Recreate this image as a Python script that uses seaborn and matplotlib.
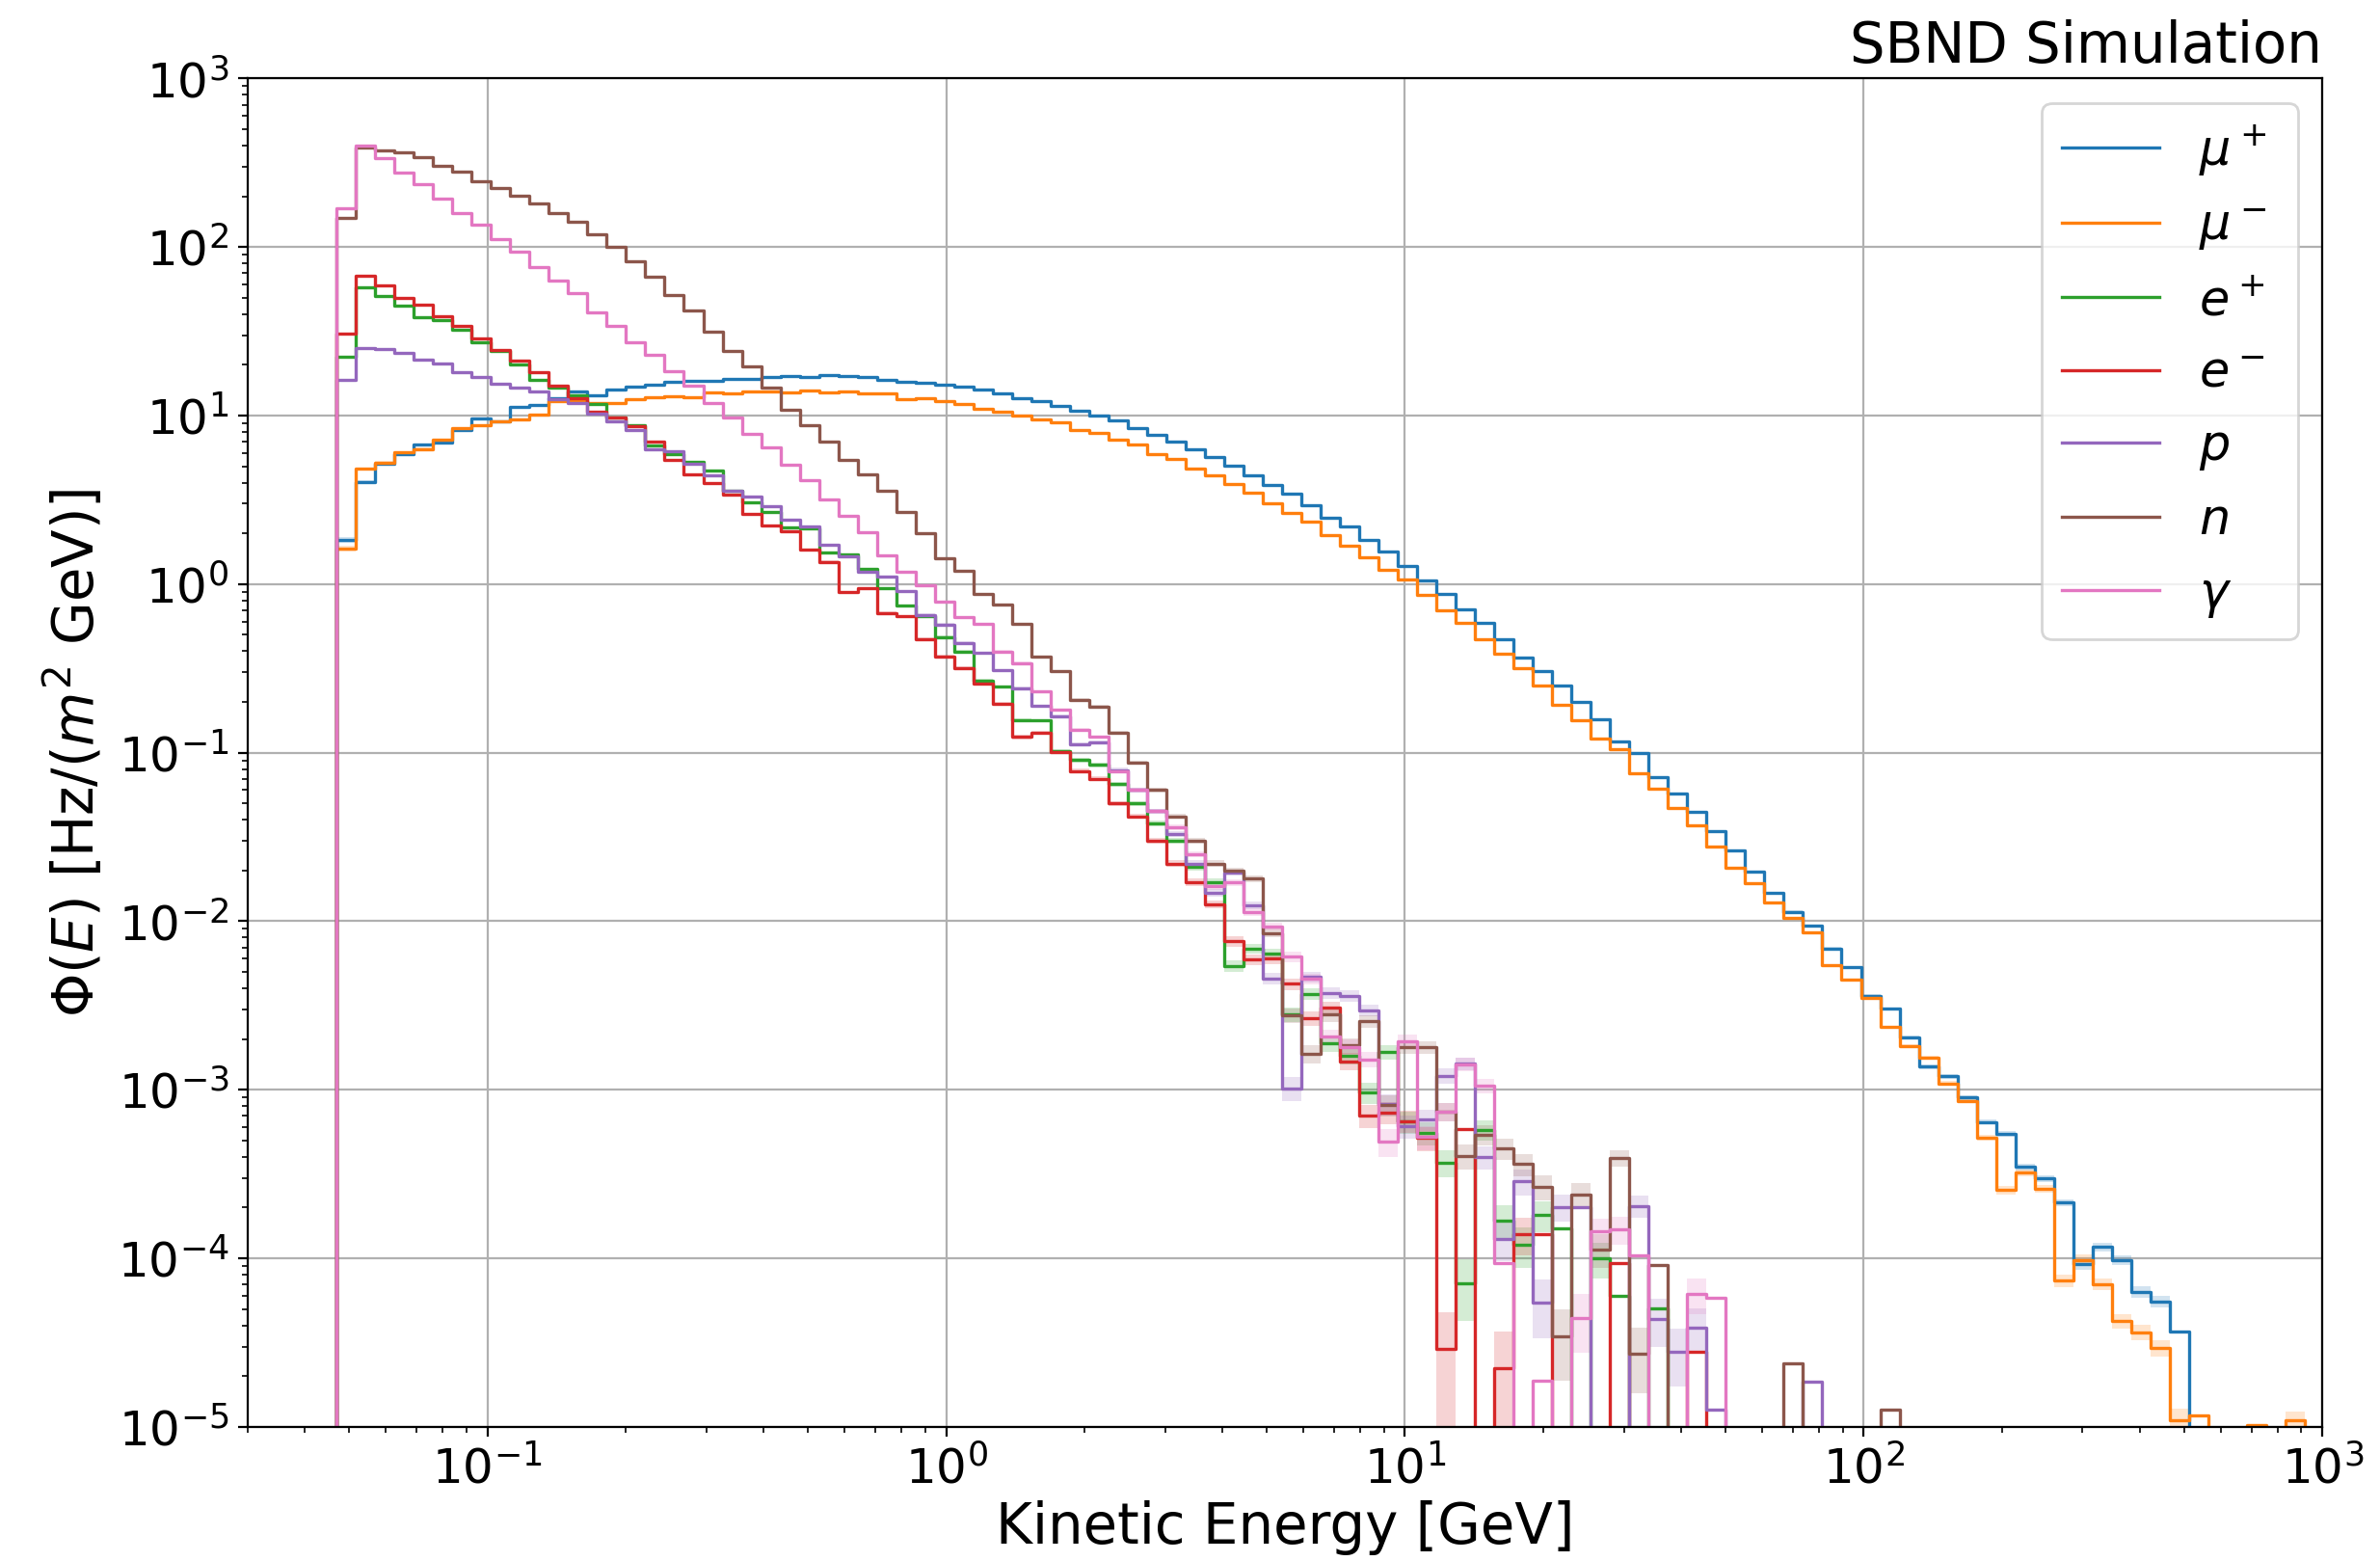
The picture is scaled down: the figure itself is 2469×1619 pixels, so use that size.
import numpy as np
import matplotlib
matplotlib.use("Agg")
import matplotlib.pyplot as plt
import seaborn as sns

# ---------------- data ----------------
# log-spaced kinetic-energy bin edges (GeV)
log_first_edge = -1.3287
log_bin_width = 0.04206
n_bins = 102

labels = [r"$\mu^+$ ", r"$\mu^-$ ", r"$e^+$ ", r"$e^-$ ", r"$p$ ", r"$n$ ", r"$\gamma$ "]
colors = ["#1f77b4", "#ff7f0e", "#2ca02c", "#d62728", "#9467bd", "#8c564b", "#e377c2"]

mu_plus = [1.83, 4.04, 5.2, 5.9, 6.7, 6.95, 8.26, 9.66, 9.27, 11.2, 11.6, 12.7, 13.9, 13.2, 14.2, 14.8, 15.2, 15.9, 16.1, 16.1,
           16.6, 16.6, 17.0, 17.1, 17.0, 17.3, 17.2, 17.0, 16.4, 15.9, 15.6, 15.3, 14.9, 14.3, 13.5, 12.7, 12.2, 11.4, 10.7, 10.0,
           9.4, 8.4, 7.7, 7.0, 6.3, 5.65, 5.02, 4.44, 3.89, 3.43, 2.94, 2.49, 2.19, 1.83, 1.57, 1.28, 1.05, 0.88, 0.713, 0.593,
           0.470, 0.369, 0.307, 0.252, 0.199, 0.157, 0.117, 0.100, 0.0719, 0.0570, 0.0448, 0.0344, 0.0264, 0.0196, 0.0147, 0.0114, 0.0094, 0.0069, 0.00534, 0.00361,
           0.00303, 0.00204, 0.00137, 0.00120, 0.00090, 0.000645, 0.000546, 0.000349, 0.000297, 0.000214, 9.25e-5, 1.17e-4, 9.78e-5, 6.31e-5, 5.53e-5, 3.68e-5, 0, 0, 0, 0,
           0, 0]
mu_minus = [1.63, 4.82, 5.27, 6.04, 6.35, 7.2, 8.47, 8.8, 9.27, 9.5, 10.2, 12.2, 12.2, 11.8, 11.9, 12.5, 12.9, 13.1, 12.9, 13.7,
            13.6, 14.0, 14.0, 13.8, 14.1, 13.8, 13.9, 13.5, 13.5, 12.6, 12.7, 12.2, 11.7, 11.0, 10.5, 10.0, 9.5, 9.1, 8.2, 7.9,
            7.2, 6.7, 5.9, 5.5, 4.87, 4.40, 3.94, 3.50, 3.03, 2.65, 2.36, 1.95, 1.69, 1.45, 1.21, 1.06, 0.861, 0.698, 0.593, 0.470,
            0.389, 0.319, 0.252, 0.193, 0.155, 0.122, 0.105, 0.0752, 0.0609, 0.0468, 0.0371, 0.0276, 0.0209, 0.0168, 0.0130, 0.0105, 0.0086, 0.0055, 0.0045, 0.00352,
            0.00235, 0.00182, 0.00156, 0.00109, 0.00086, 0.000522, 0.000254, 0.000323, 0.000259, 7.36e-5, 9.78e-5, 7.05e-5, 4.26e-5, 3.65e-5, 2.93e-5, 1.09e-5, 1.17e-5, 0, 0, 1.02e-5,
            0, 1.1e-5]
e_plus = [22.4, 57.4, 51.2, 45.1, 38.4, 36.9, 32.2, 27.2, 24.1, 20.1, 16.3, 14.6, 13.2, 11.7, 9.8, 8.8, 6.68, 5.89, 5.32, 4.70,
          3.56, 3.06, 2.69, 2.16, 2.13, 1.55, 1.50, 1.24, 0.947, 0.743, 0.643, 0.485, 0.399, 0.269, 0.246, 0.155, 0.155, 0.102, 0.0904, 0.0847,
          0.065, 0.05, 0.038, 0.03, 0.021, 0.0171, 0.00543, 0.0069, 0.0064, 0.00281, 0.00370, 0.00188, 0.00159, 0.000961, 0.00167, 0.000647, 0.000557, 0.000371, 7.07e-5, 0.000580,
          0.000168, 0.00012, 0.00018, 0.00015, 0, 0.0001, 6e-5, 0, 5.05e-5, 0, 0, 0, 0, 0, 0, 0, 0, 0, 0, 0,
          0, 0, 0, 0, 0, 0, 0, 0, 0, 0, 0, 0, 0, 0, 0, 0, 0, 0, 0, 0,
          0, 0]
e_minus = [30.6, 68, 58.9, 50.2, 45.8, 39.0, 33.9, 28.8, 24.4, 21.2, 18.2, 15.0, 12.7, 10.5, 9.75, 8.68, 7.03, 5.46, 4.46, 3.98,
           3.39, 2.61, 2.24, 2.07, 1.60, 1.36, 0.893, 0.946, 0.675, 0.643, 0.473, 0.373, 0.319, 0.256, 0.195, 0.124, 0.132, 0.101, 0.078, 0.07,
           0.05, 0.042, 0.03, 0.022, 0.017, 0.0126, 0.00762, 0.00594, 0.0060, 0.00425, 0.00265, 0.00308, 0.00148, 0.000704, 0.000732, 0.000653, 0.000518, 2.90e-5, 0.000586, 0,
           2.23e-5, 0.000139, 0.000139, 0, 0, 0, 9.4e-5, 0, 0, 0, 2.79e-5, 0, 0, 0, 0, 0, 0, 0, 0, 0,
           0, 0, 0, 0, 0, 0, 0, 0, 0, 0, 0, 0, 0, 0, 0, 0, 0, 0, 0, 0,
           0, 0]
proton = [16.3, 25.1, 24.8, 23.5, 21.5, 20.5, 18.2, 17.0, 15.5, 14.6, 14.0, 12.5, 11.8, 10.3, 9.27, 8.17, 6.35, 6.13, 5.20, 4.40,
          3.59, 3.30, 2.91, 2.40, 2.20, 1.71, 1.46, 1.19, 1.11, 0.906, 0.658, 0.577, 0.449, 0.390, 0.309, 0.241, 0.189, 0.164, 0.112, 0.115,
          0.079, 0.06, 0.045, 0.033, 0.022, 0.0148, 0.0195, 0.0125, 0.00457, 0.00102, 0.00469, 0.00375, 0.00362, 0.00296, 0.00082, 0.000607, 0.00067, 0.00121, 0.00143, 0.0004,
          0.000131, 0.000286, 5.43e-5, 0.000202, 0.000202, 0, 0, 0.000205, 4.35e-5, 2.79e-5, 3.88e-5, 1.26e-5, 0, 0, 0, 0, 1.86e-5, 0, 0, 0,
          0, 0, 0, 0, 0, 0, 0, 0, 0, 0, 0, 0, 0, 0, 0, 0, 0, 0, 0, 0,
          0, 0]
neutron = [148, 390, 376, 367, 340, 303, 282, 245, 224, 202, 181, 159, 142, 119, 100, 82, 67, 52, 42, 31.6,
           24.2, 19.6, 14.6, 10.9, 8.8, 6.98, 5.49, 4.46, 3.56, 2.68, 2.0, 1.42, 1.20, 0.879, 0.754, 0.584, 0.371, 0.306, 0.206, 0.188,
           0.132, 0.0873, 0.06, 0.042, 0.03, 0.022, 0.0199, 0.0179, 0.0085, 0.00276, 0.00164, 0.00279, 0.00183, 0.00256, 0.00081, 0.00179, 0.00179, 0.000743, 0.000404, 0.000543,
           0.000451, 0.000362, 0.000265, 3.43e-5, 0.00024, 0.000113, 0.000395, 2.72e-5, 9.14e-5, 0, 0, 0, 0, 0, 0, 2.37e-5, 0, 0, 0, 0,
           1.26e-5, 0, 0, 0, 0, 0, 0, 0, 0, 0, 0, 0, 0, 0, 0, 0, 0, 0, 0, 0,
           0, 0]
gamma = [171, 402, 335, 278, 235, 195, 159, 135, 112, 94, 76, 63, 53.6, 41, 34, 27.4, 23.0, 18.3, 15.0, 11.9,
         9.76, 7.78, 6.46, 5.1, 4.16, 3.19, 2.56, 2.02, 1.49, 1.19, 0.988, 0.787, 0.638, 0.579, 0.399, 0.340, 0.230, 0.179, 0.137, 0.124,
         0.0774, 0.06, 0.045, 0.036, 0.025, 0.0162, 0.0170, 0.0114, 0.0093, 0.00616, 0.00457, 0.00207, 0.00179, 0.00152, 0.000492, 0.00195, 0.000525, 0.000743, 0.00142, 0.00106,
         9.37e-5, 0, 1.89e-5, 0, 4.45e-5, 0.000144, 0.000148, 0.000104, 0, 0, 6.15e-5, 5.86e-5, 0, 0, 0, 0, 0, 0, 0, 0,
         0, 0, 0, 0, 0, 0, 0, 0, 0, 0, 0, 0, 0, 0, 0, 0, 0, 0, 0, 0,
         0, 0]

series = [mu_plus, mu_minus, e_plus, e_minus, proton, neutron, gamma]

# statistical weight of one simulated event (flux x GeV), used for the error bands
event_weight = 1.5e-5

# ---------------- plot ----------------
edges = 10 ** (log_first_edge + log_bin_width * np.arange(n_bins + 1))
widths = np.diff(edges)

fig = plt.figure(figsize=(12.345, 8.095), dpi=200)
ax = fig.add_axes([0.104, 0.0859, 0.8718, 0.8638])

for vals, lab, col in zip(series, labels, colors):
    v = np.asarray(vals, dtype=float)
    err = np.sqrt(v * event_weight / widths)
    lo = np.append(v - err, v[-1] - err[-1])
    hi = np.append(v + err, v[-1] + err[-1])
    mask = np.append(v > 0, v[-1] > 0)
    ax.fill_between(edges, np.where(mask, lo, np.nan), np.where(mask, hi, np.nan),
                    step="post", color=col, alpha=0.2, linewidth=0)
    xs = np.concatenate([[edges[0]], edges[:-1], [edges[-1], edges[-1]]])
    ys = np.concatenate([[0.0], v, [v[-1], 0.0]])
    sns.lineplot(x=xs, y=ys, drawstyle="steps-post", color=col, linewidth=1.2,
                 label=lab, estimator=None, sort=False, ax=ax)

ax.set_xscale("log")
ax.set_yscale("log")
ax.set_xlim(0.03, 1000)
ax.set_ylim(1e-5, 1e3)
ax.grid(True, which="major", color="#b0b0b0", linewidth=0.8)
ax.set_axisbelow(True)
ax.tick_params(axis="both", which="major", labelsize=18)
ax.set_xlabel("Kinetic Energy [GeV]", fontsize=20.8, labelpad=2.5)
ax.set_ylabel(r"$\Phi(E)$ [Hz/($m^2$ GeV)]", fontsize=20.8)
ax.set_title("SBND Simulation", loc="right", fontsize=20.8)
ax.legend(loc="upper right", fontsize=18.3, handlelength=2.0)

fig.savefig("out.png", dpi=200)
